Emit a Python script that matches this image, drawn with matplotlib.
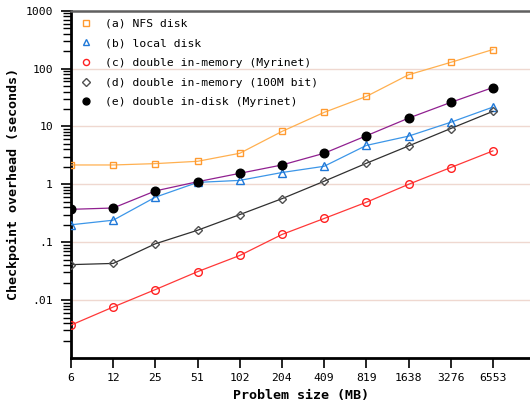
import matplotlib
matplotlib.use("Agg")
import matplotlib.pyplot as plt
from matplotlib.ticker import FixedLocator, NullFormatter
import numpy as np

sizes = ["6", "12", "25", "51", "102", "204", "409", "819", "1638", "3276", "6553"]

nfs_disk = [2.16, 2.16, 2.28, 2.5, 3.44, 8.2, 17.5, 33, 78, 128, 213]
local_disk = [0.2, 0.24, 0.6, 1.08, 1.17, 1.6, 2.05, 4.7, 6.8, 11.8, 21.6]
mem_myrinet = [0.0037, 0.0076, 0.0152, 0.031, 0.059, 0.136, 0.257, 0.49, 1.0, 1.95, 3.78]
mem_100m = [0.041, 0.043, 0.094, 0.161, 0.30, 0.565, 1.13, 2.31, 4.6, 9.2, 18.2]
disk_myrinet = [0.37, 0.39, 0.77, 1.11, 1.55, 2.16, 3.44, 6.9, 13.9, 26, 47]

ytick_vals = [0.01, 0.1, 1, 10, 100, 1000]
ytick_labels = [".01", ".1", "1", "10", "100", "1000"]

mono = "DejaVu Sans Mono"
fs = 8.2

fig = plt.figure(figsize=(5.3, 4.11), dpi=100)
ax = fig.add_axes([0.134, 0.129, 0.866, 0.845])

x = np.arange(len(sizes))

ax.plot(x, nfs_disk, color="#ffb050", lw=0.9, marker="s", ms=5, mfc="none",
        mec="#ff9a30", mew=1.0, label="(a) NFS disk", zorder=3)
ax.plot(x, local_disk, color="#3c96e8", lw=0.9, marker="^", ms=5.5, mfc="none",
        mec="#1f78d8", mew=1.0, label="(b) local disk", zorder=3)
ax.plot(x, mem_myrinet, color="#ff3838", lw=0.9, marker="o", ms=5.5, mfc="none",
        mec="#ff2020", mew=1.0, label="(c) double in-memory (Myrinet)", zorder=3)
ax.plot(x, mem_100m, color="#303030", lw=0.9, marker="D", ms=4.5, mfc="none",
        mec="#505050", mew=1.0, label="(d) double in-memory (100M bit)", zorder=3)
ax.plot(x, disk_myrinet, color="#902090", lw=0.9, marker="o", ms=6.2, mfc="black",
        mec="black", label="(e) double in-disk (Myrinet)", zorder=3)

ax.set_yscale("log")
ax.set_ylim(0.001, 1000)
ax.set_xlim(0, 10.88)

ax.set_xticks(x)
ax.set_xticklabels(sizes, family=mono, fontsize=fs)
ax.yaxis.set_major_locator(FixedLocator(ytick_vals))
ax.set_yticklabels(ytick_labels, family=mono, fontsize=fs)
minors = [m * 10.0 ** e for e in range(-3, 3) for m in range(2, 10)]
ax.yaxis.set_minor_locator(FixedLocator(minors))
ax.yaxis.set_minor_formatter(NullFormatter())

ax.tick_params(axis="y", which="major", length=7, width=1.2, pad=6, direction="out")
ax.tick_params(axis="y", which="minor", length=6, width=1.0, direction="out")
ax.tick_params(axis="x", which="major", length=7, width=1.2, pad=4, direction="out")

for v in ytick_vals:
    ax.axhline(v, color="#efd8d0", lw=1.0, zorder=1)

ax.spines["left"].set_linewidth(2)
ax.spines["bottom"].set_linewidth(2)
ax.spines["top"].set_color("#606060")
ax.spines["top"].set_linewidth(1.8)
ax.spines["right"].set_visible(False)

ax.set_xlabel("Problem size (MB)", family=mono, fontsize=9.6, fontweight="bold", labelpad=4)
ax.set_ylabel("Checkpoint overhead (seconds)", family=mono, fontsize=9.6, fontweight="bold", labelpad=4)

leg = ax.legend(loc="upper left", frameon=False, prop={"family": mono, "size": fs},
                handlelength=0.8, handletextpad=1.3, labelspacing=0.85, markerscale=0.8,
                borderaxespad=0.3, bbox_to_anchor=(0.005, 1.0))
for h in leg.get_lines():
    h.set_linestyle("none")

fig.savefig("out.png", dpi=100)
